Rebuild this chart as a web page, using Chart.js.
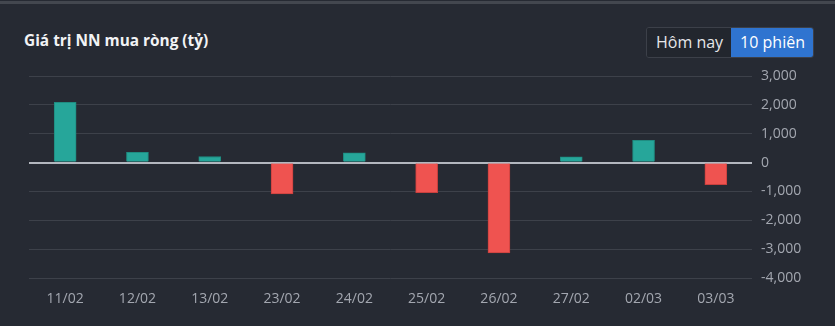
<!DOCTYPE html>
<html>
<head>
<meta charset="utf-8">
<script src="https://cdn.jsdelivr.net/npm/chart.js@4"></script>
<style>
  html, body { margin: 0; padding: 0; background: #262a33; }
  body { width: 835px; height: 326px; position: relative; overflow: hidden; font-family: "Open Sans", Roboto, sans-serif; }
  .topline { position: absolute; left: 0; top: 1px; width: 835px; height: 3px; background: #43474f; }
  .title { position: absolute; left: 24px; top: 30px; color: #f2f3f5; font-size: 15.4px; font-weight: bold; }
  .tabs { position: absolute; left: 646px; top: 27px; display: flex; border: 1px solid #3c4049; border-radius: 3px; overflow: hidden; }
  .tabs div { height: 29px; line-height: 29px; padding: 0 8px 0 9px; font-size: 16px; color: #e6e7ea; background: #22262e; }
  .tabs div.on { background: #2f74d0; color: #fff; }
  #wrap { position: absolute; left: 0; top: 0; width: 835px; height: 326px; }
</style>
</head>
<body>
<div class="topline"></div>
<div class="title">Giá trị NN mua ròng (tỷ)</div>
<div class="tabs"><div>Hôm nay</div><div class="on">10 phiên</div></div>
<div id="wrap"><canvas id="c"></canvas></div>
<script>
// ── Dữ liệu ───────────────────────────────────────────
const labels = ["11/02","12/02","13/02","23/02","24/02","25/02","26/02","27/02","02/03","03/03"];
const values = [2090, 355, 210, -1090, 335, -1045, -3130, 195, 775, -765];
const yTicks = [3000, 2000, 1000, 0, -1000, -2000, -3000, -4000];

const UP = "#26a69a", DOWN = "#ef5350";
const tickColor = "#a3a7b0";
const tickFont = { family: "'Open Sans'", size: 14 };

new Chart(document.getElementById("c"), {
  type: "bar",
  data: {
    labels,
    datasets: [{
      data: values,
      backgroundColor: values.map(v => v >= 0 ? UP : DOWN),
      borderColor: values.map(v => v >= 0 ? "#1f8c81" : "#c9403e"),
      borderWidth: 1,
      barThickness: 22,
    }],
  },
  options: {
    responsive: true, maintainAspectRatio: false, animation: false,
    layout: { padding: { left: 29, top: 76, right: 0, bottom: 0 } },
    plugins: { legend: { display: false }, tooltip: { enabled: false } },
    scales: {
      x: {
        grid: { display: false }, border: { display: false },
        ticks: { color: tickColor, font: tickFont, padding: 5 },
        afterFit: s => { s.height = 48; },
      },
      y: {
        position: "right",
        min: Math.min(...yTicks), max: Math.max(...yTicks),
        border: { display: false },
        grid: {
          drawTicks: false,
          color: c => c.tick.value === 0 ? "#b3b7bf" : "#3d414a",
          lineWidth: c => c.tick.value === 0 ? 2 : 1,
        },
        ticks: {
          stepSize: 1000, color: tickColor, padding: 9,
          font: tickFont,
          callback: v => v.toLocaleString("en-US"),
        },
        afterFit: s => { s.width = 83; },
      },
    },
  },
});
</script>
</body>
</html>
